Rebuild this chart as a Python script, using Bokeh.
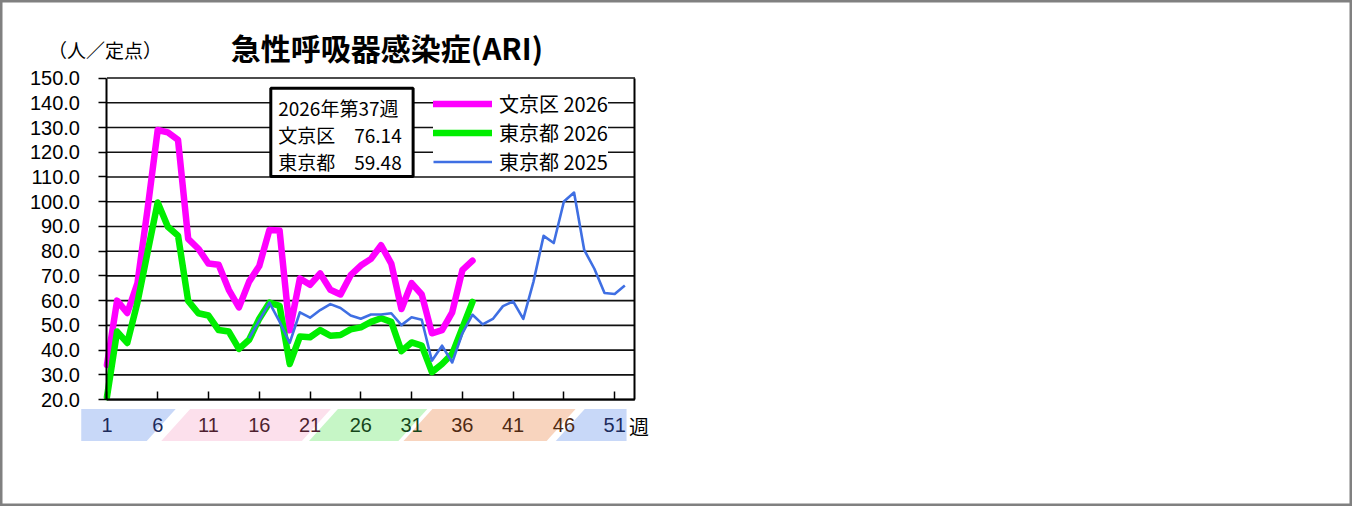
from bokeh.plotting import figure
from bokeh.models import (Range1d, LinearAxis, FixedTicker, Label, Legend, LegendItem,
                          PrintfTickFormatter)
from bokeh.embed import file_html
from bokeh.resources import INLINE

# ---------------- data ----------------
weeks_2026 = list(range(1, 38))
bunkyo_2026 = [34, 60, 55, 67, 97, 129, 128, 125, 85, 81, 75, 74.5, 64.4, 57.3, 67.7,
               74, 88.6, 88.4, 48, 69, 66.4, 71, 64.4, 62.5, 70.3, 74.2, 76.9, 82.4,
               75, 56.6, 67.1, 62.5, 46.8, 48.1, 55.3, 72.3, 76.14]
tokyo_2026 = [21, 47.5, 42.9, 59.2, 79.5, 99.7, 89.9, 86.3, 59.9, 54.9, 54, 48.1, 47.5,
              40.5, 44.2, 52.7, 59.2, 57.9, 34.4, 45.5, 45.2, 48.1, 45.8, 46.1, 48.4,
              49.2, 51.4, 52.9, 51.4, 39.6, 43.1, 41.8, 31.1, 34.4, 38.5, 49, 59.48]
weeks_2025 = list(range(15, 53))
tokyo_2025 = [44.8, 52, 59.2, 51.5, 42.9, 55.3, 53.1, 56.2, 58.6, 57, 54, 52.7, 54.4,
              54.4, 54.9, 50.1, 53.3, 52.3, 35.7, 41.8, 35, 46.8, 54.3, 50.4, 52.6,
              57.8, 59.7, 52.6, 67.6, 86.2, 83.3, 100.1, 103.7, 80.5, 72.9, 63.1,
              62.7, 66.1]

series_labels = ["文京区 2026", "東京都 2026", "東京都 2025"]
y_ticks = [20, 30, 40, 50, 60, 70, 80, 90, 100, 110, 120, 130, 140, 150]
season_ticks = [[1, 6], [11, 16, 21], [26, 31], [36, 41, 46], [51]]
season_label_colors = ["#1c2b5c", "#4e1f2f", "#15461a", "#4f2a12", "#1c2b5c"]
season_fill_colors = ["#c8d8f8", "#fce0ec", "#c6f6c6", "#f8d4be", "#c8d8f8"]
season_start_week = [-1.53, 6.35, 20.9, 30.2, 45.2]
season_end_week = [4.92, 20.2, 29.7, 44.3, 52.17]

info_lines = ["2026年第37週", "文京区\u300076.14", "東京都\u300059.48"]
title_text = "急性呼吸器感染症(ARI)"
unit_text = "（人／定点）"

# ---------------- layout helpers (reference pixels -> data) ----------------
W, H = 1352, 506
RW, RH = 1368, 522          # reference image size mapped onto the figure
SX, SY = W / RW, H / RH
PX0, PXW = 107.7, 10.275    # ref x of week 1, ref pixels per week
PY20, PYU = 411.7, 2.5515   # ref y of value 20, ref pixels per unit


def dx(px):
    return 1 + (px - PX0) / PXW


def dy(py):
    return 20 + (PY20 - py) / PYU


p = figure(width=W, height=H, output_backend="svg", toolbar_location=None,
           x_range=Range1d(dx(0), dx(RW)), y_range=Range1d(dy(RH), dy(0)),
           x_axis_type=None, y_axis_type=None, min_border=0,
           background_fill_color="white", border_fill_color="white")
p.title.visible = False
p.outline_line_color = "#808080"
p.outline_line_width = 4

# horizontal grid lines (only across the plot area)
p.segment(x0=1, x1=53, y0=y_ticks, y1=y_ticks, line_color="#111111", line_width=1.6)

# season bands under the x axis
slant = 2.85
band_bottom, band_top = dy(454.5), dy(421.5)
xs, ys = [], []
n = len(season_start_week)
for i in range(n):
    l0 = season_start_week[i]
    r0 = season_end_week[i]
    l1 = l0 if i == 0 else l0 + slant
    r1 = r0 if i == n - 1 else r0 + slant
    xs.append([l0, r0, r1, l1])
    ys.append([band_bottom, band_bottom, band_top, band_top])
p.patches(xs, ys, fill_color=season_fill_colors, line_color=None)

# axes
yaxis = LinearAxis(fixed_location=1, ticker=FixedTicker(ticks=y_ticks),
                   formatter=PrintfTickFormatter(format="%.1f"), bounds=(20, 150),
                   axis_line_width=2, axis_line_color="black",
                   major_tick_out=8, major_tick_in=0, major_tick_line_width=1.6,
                   minor_tick_line_color=None, major_label_standoff=19,
                   major_label_text_font="Liberation Sans",
                   major_label_text_font_size="20px", major_label_text_color="black")
p.add_layout(yaxis, "left")

raxis = LinearAxis(fixed_location=53, ticker=FixedTicker(ticks=[]), bounds=(20, 150),
                   axis_line_width=2, axis_line_color="black",
                   major_tick_line_color=None, minor_tick_line_color=None)
p.add_layout(raxis, "right")

for i, (ticks, col) in enumerate(zip(season_ticks, season_label_colors)):
    ax = LinearAxis(fixed_location=20, ticker=FixedTicker(ticks=ticks), bounds=(1, 53),
                    axis_line_width=2,
                    axis_line_color="black" if i == 0 else None,
                    major_tick_in=8, major_tick_out=0, major_tick_line_width=1.5,
                    major_tick_line_color="black", minor_tick_line_color=None,
                    major_label_standoff=18, major_label_text_font="Liberation Sans",
                    major_label_text_font_size="20px", major_label_text_color=col)
    p.add_layout(ax, "below")

# info box
p.quad(left=dx(273.5), right=dx(417.5), top=dy(90.5), bottom=dy(181.5),
       fill_color="white", line_color="black", line_width=3)

# series
r_b = p.line(weeks_2026, bunkyo_2026, line_color="#ff00ff", line_width=6.5,
             line_join="round", line_cap="round")
r_t = p.line(weeks_2026, tokyo_2026, line_color="#00ee00", line_width=6.5,
             line_join="round", line_cap="round")
r_p = p.line(weeks_2025, tokyo_2025, line_color="#3f6fe3", line_width=2.6,
             line_join="round")

legend = Legend(items=[LegendItem(label=series_labels[0], renderers=[r_b]),
                       LegendItem(label=series_labels[1], renderers=[r_t]),
                       LegendItem(label=series_labels[2], renderers=[r_p])],
                location=(round(438 * SX), round((RH - 182) * SY)),
                orientation="vertical",
                glyph_width=59, glyph_height=27, label_height=27, label_standoff=7,
                spacing=0, padding=2, margin=0, border_line_color=None,
                background_fill_color="white", background_fill_alpha=1.0,
                label_text_font="Noto Sans CJK JP", label_text_font_size="20px",
                label_text_color="black")
p.add_layout(legend)

# texts
p.add_layout(Label(x=dx(391), y=dy(48), text=title_text, text_align="center",
                   text_baseline="middle", text_font="Noto Sans CJK JP",
                   text_font_style="bold", text_font_size="30px", text_color="black"))
p.add_layout(Label(x=dx(48), y=dy(51), text=unit_text, text_baseline="middle",
                   text_font="Noto Sans CJK JP", text_font_size="19px",
                   text_color="black"))
for i, t in enumerate(info_lines):
    p.add_layout(Label(x=dx(281), y=dy(110 + 28.3 * i), text=t, text_baseline="middle",
                       text_font="Noto Sans CJK JP", text_font_size="19px",
                       text_color="black"))
p.add_layout(Label(x=dx(636), y=dy(439), text="週", text_baseline="middle",
                   text_font="Noto Sans CJK JP", text_font_size="20px",
                   text_color="black"))

open("out.html", "w").write(file_html(p, INLINE))
